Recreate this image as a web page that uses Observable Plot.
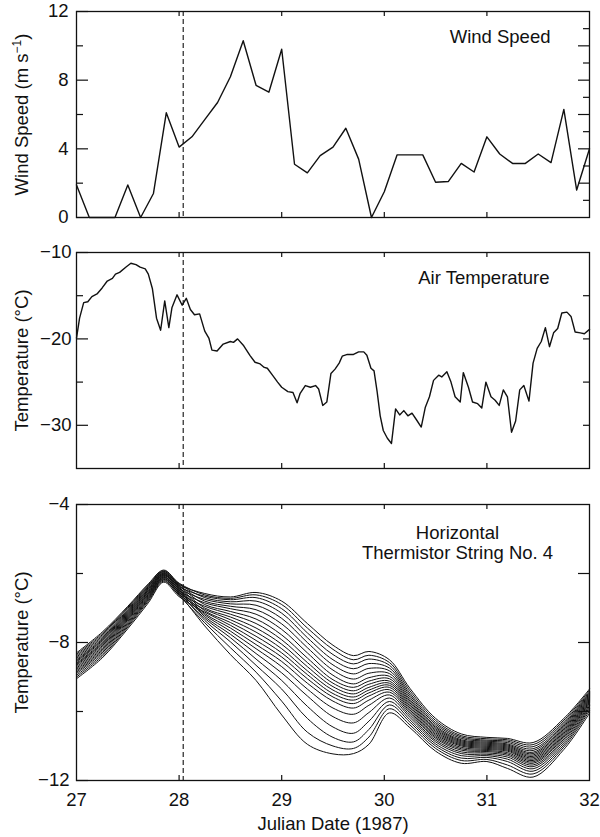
<!DOCTYPE html>
<html><head><meta charset="utf-8">
<script src="https://cdn.jsdelivr.net/npm/d3@7"></script>
<script src="https://cdn.jsdelivr.net/npm/@observablehq/plot@0.6"></script>
<style>
body{margin:0;background:#fff}
#chart svg{display:block}
</style></head><body><div id="chart"></div>
<script>
// ---------------- DATA ----------------
const eventDay = 28.04; // dashed vertical marker

const dayTicks = [27, 28, 29, 30, 31, 32];

// Panel 1: wind speed (m s-1), 3-hourly
const windDays = [27.0, 27.125, 27.25, 27.375, 27.5, 27.625, 27.75, 27.875, 28.0, 28.125, 28.25, 28.375, 28.5, 28.625, 28.75, 28.875, 29.0, 29.125, 29.25, 29.375, 29.5, 29.625, 29.75, 29.875, 30.0, 30.125, 30.25, 30.375, 30.5, 30.625, 30.75, 30.875, 31.0, 31.125, 31.25, 31.375, 31.5, 31.625, 31.75, 31.875, 32.0];
const windSpeed = [1.9, 0, 0, 0, 1.9, 0, 1.4, 6.1, 4.1, 4.7, 5.7, 6.7, 8.2, 10.3, 7.7, 7.3, 9.8, 3.1, 2.6, 3.6, 4.1, 5.2, 3.4, 0, 1.5, 3.65, 3.65, 3.65, 2.05, 2.1, 3.15, 2.65, 4.7, 3.7, 3.15, 3.15, 3.7, 3.2, 6.3, 1.6, 4.0];
const windLabels = [0, 4, 8, 12];
const windMinor = [2, 6, 10];
const windRightMajor = [2, 4, 6, 8, 10];
const windRightMinor = [1, 3, 5, 7, 9, 11];

// Panel 2: air temperature (°C)
const airDays = [27.0, 27.03, 27.07, 27.11, 27.15, 27.2, 27.25, 27.3, 27.35, 27.38, 27.42, 27.48, 27.53, 27.58, 27.62, 27.67, 27.70, 27.74, 27.78, 27.82, 27.86, 27.9, 27.93, 27.98, 28.03, 28.07, 28.11, 28.15, 28.2, 28.25, 28.29, 28.32, 28.37, 28.43, 28.5, 28.53, 28.57, 28.63, 28.69, 28.74, 28.79, 28.83, 28.86, 28.91, 28.96, 29.0, 29.06, 29.11, 29.15, 29.18, 29.23, 29.28, 29.33, 29.36, 29.40, 29.44, 29.48, 29.52, 29.56, 29.59, 29.64, 29.70, 29.75, 29.80, 29.83, 29.87, 29.90, 29.93, 29.96, 29.99, 30.03, 30.07, 30.11, 30.15, 30.19, 30.23, 30.27, 30.31, 30.36, 30.40, 30.44, 30.48, 30.53, 30.56, 30.61, 30.65, 30.69, 30.74, 30.77, 30.82, 30.86, 30.91, 30.95, 30.99, 31.04, 31.08, 31.12, 31.16, 31.20, 31.24, 31.28, 31.32, 31.36, 31.41, 31.45, 31.49, 31.53, 31.57, 31.61, 31.65, 31.69, 31.73, 31.78, 31.82, 31.86, 31.91, 31.95, 32.0];
const airTemp = [-19.9, -17.6, -15.8, -15.7, -15.1, -14.8, -14.1, -13.3, -13.0, -12.5, -12.3, -11.7, -11.25, -11.4, -11.7, -11.9, -12.5, -14.2, -17.6, -19.0, -15.6, -18.7, -16.4, -14.9, -16.1, -15.3, -16.6, -17.2, -17.1, -19.1, -19.9, -21.3, -21.4, -20.6, -20.3, -20.4, -20.0, -20.8, -21.9, -22.7, -22.9, -23.3, -23.4, -24.2, -25.0, -25.6, -26.1, -26.2, -27.4, -26.3, -25.4, -25.6, -25.4, -25.8, -27.7, -27.3, -24.0, -23.5, -22.8, -22.0, -21.8, -21.8, -21.5, -21.5, -21.9, -23.4, -23.7, -26.1, -28.9, -30.6, -31.5, -32.1, -28.1, -28.8, -28.3, -28.9, -28.6, -29.3, -30.2, -27.9, -26.7, -24.8, -24.2, -24.4, -23.8, -25.0, -26.7, -27.3, -23.9, -25.6, -27.3, -27.5, -28.0, -25.0, -26.7, -27.1, -27.7, -25.9, -26.7, -30.8, -29.5, -25.9, -25.4, -27.2, -22.8, -21.1, -20.3, -18.7, -20.9, -19.3, -18.8, -17.0, -16.9, -17.4, -19.2, -19.3, -19.4, -18.9];
const airLabels = [-30, -20, -10];
const airMinor = [-25, -15];
const airRight = [-30, -25, -20, -15];

// Panel 3: horizontal thermistor string No. 4 — one row per time, one column per thermistor
const thermTimes = [27.0, 27.25, 27.5, 27.7, 27.85, 28.0, 28.25, 28.5, 28.75, 29.0, 29.25, 29.5, 29.7, 29.85, 30.05, 30.25, 30.5, 30.75, 31.0, 31.2, 31.45, 31.75, 32.0];
const thermValues = [
  [-8.38,-8.30,-8.50,-8.34,-8.60,-8.42,-8.70,-8.46,-8.82,-8.53,-8.95,-8.56,-9.05,-8.63,-8.74,-8.66,-8.86,-8.78,-9.00,-8.90],
  [-7.78,-7.70,-7.90,-7.74,-8.00,-7.82,-8.10,-7.86,-8.22,-7.93,-8.35,-7.96,-8.45,-8.03,-8.14,-8.06,-8.26,-8.18,-8.40,-8.30],
  [-7.01,-6.95,-7.11,-6.98,-7.20,-7.05,-7.29,-7.08,-7.39,-7.14,-7.51,-7.17,-7.60,-7.23,-7.32,-7.26,-7.43,-7.35,-7.55,-7.47],
  [-6.36,-6.30,-6.44,-6.33,-6.51,-6.38,-6.59,-6.41,-6.67,-6.46,-6.76,-6.49,-6.85,-6.54,-6.61,-6.56,-6.70,-6.64,-6.80,-6.73],
  [-5.94,-5.90,-5.99,-5.92,-6.03,-5.95,-6.08,-5.97,-6.13,-6.00,-6.19,-6.02,-6.25,-6.05,-6.10,-6.06,-6.15,-6.11,-6.22,-6.17],
  [-6.32,-6.28,-6.38,-6.30,-6.44,-6.34,-6.50,-6.36,-6.56,-6.40,-6.62,-6.42,-6.67,-6.46,-6.52,-6.48,-6.58,-6.54,-6.64,-6.60],
  [-6.58,-6.62,-6.66,-6.70,-6.75,-6.80,-6.85,-6.90,-6.95,-7.00,-7.04,-7.08,-7.12,-7.16,-7.20,-7.25,-7.30,-7.36,-7.43,-7.52],
  [-6.68,-6.72,-6.76,-6.82,-6.88,-6.95,-7.02,-7.10,-7.18,-7.26,-7.34,-7.42,-7.50,-7.58,-7.67,-7.76,-7.86,-7.98,-8.15,-8.35],
  [-6.55,-6.62,-6.70,-6.80,-6.92,-7.05,-7.18,-7.32,-7.45,-7.58,-7.70,-7.82,-7.94,-8.06,-8.18,-8.32,-8.48,-8.66,-8.86,-9.10],
  [-6.80,-6.90,-7.02,-7.15,-7.30,-7.46,-7.62,-7.78,-7.92,-8.05,-8.18,-8.30,-8.42,-8.55,-8.70,-8.88,-9.10,-9.35,-9.70,-10.10],
  [-7.45,-7.58,-7.72,-7.86,-8.00,-8.15,-8.30,-8.45,-8.58,-8.70,-8.82,-8.93,-9.05,-9.18,-9.35,-9.55,-9.85,-10.20,-10.60,-10.95],
  [-8.08,-8.20,-8.35,-8.50,-8.65,-8.80,-8.95,-9.08,-9.18,-9.28,-9.38,-9.48,-9.58,-9.70,-9.90,-10.15,-10.45,-10.75,-11.00,-11.23],
  [-8.38,-8.50,-8.62,-8.76,-8.91,-9.06,-9.20,-9.30,-9.40,-9.49,-9.58,-9.67,-9.77,-9.90,-10.08,-10.33,-10.63,-10.88,-11.07,-11.22],
  [-8.26,-8.37,-8.48,-8.61,-8.75,-8.89,-9.02,-9.12,-9.21,-9.30,-9.38,-9.46,-9.55,-9.67,-9.82,-10.03,-10.28,-10.52,-10.74,-10.95],
  [-8.50,-8.58,-8.66,-8.74,-8.82,-8.90,-8.98,-9.05,-9.12,-9.18,-9.24,-9.30,-9.37,-9.44,-9.52,-9.61,-9.71,-9.81,-9.92,-10.04],
  [-9.33,-9.40,-9.47,-9.53,-9.59,-9.65,-9.70,-9.75,-9.80,-9.85,-9.90,-9.95,-10.00,-10.05,-10.11,-10.17,-10.24,-10.31,-10.39,-10.47],
  [-10.20,-10.26,-10.32,-10.37,-10.42,-10.46,-10.50,-10.54,-10.58,-10.62,-10.66,-10.70,-10.74,-10.78,-10.83,-10.88,-10.94,-11.00,-11.07,-11.15],
  [-10.65,-10.70,-10.74,-10.78,-10.82,-10.85,-10.88,-10.91,-10.94,-10.97,-11.00,-11.04,-11.08,-11.12,-11.17,-11.22,-11.28,-11.35,-11.42,-11.50],
  [-10.75,-10.79,-10.83,-10.86,-10.89,-10.92,-10.95,-10.98,-11.01,-11.04,-11.07,-11.10,-11.13,-11.16,-11.20,-11.24,-11.28,-11.33,-11.39,-11.45],
  [-10.78,-10.82,-10.86,-10.90,-10.94,-10.97,-11.00,-11.03,-11.06,-11.09,-11.12,-11.15,-11.19,-11.23,-11.27,-11.32,-11.38,-11.45,-11.55,-11.65],
  [-10.90,-10.96,-11.02,-11.08,-11.13,-11.18,-11.22,-11.26,-11.30,-11.34,-11.38,-11.42,-11.46,-11.50,-11.55,-11.60,-11.66,-11.73,-11.81,-11.90],
  [-10.20,-10.25,-10.30,-10.35,-10.39,-10.43,-10.47,-10.51,-10.55,-10.59,-10.63,-10.67,-10.71,-10.75,-10.80,-10.85,-10.91,-10.97,-11.03,-11.10],
  [-9.35,-9.39,-9.43,-9.46,-9.49,-9.52,-9.55,-9.58,-9.61,-9.64,-9.67,-9.70,-9.73,-9.76,-9.80,-9.84,-9.88,-9.92,-9.98,-10.05]
];
const thermLabels = [-12, -8, -4];
const thermMinor = [-10, -6];
const thermRight = [-10, -8, -6];

// ---------------- LAYOUT ----------------
const FONT = "'Liberation Sans', Arial, Helvetica, sans-serif";
const WIDTH = 600, ML = 76, MR = 11;
const INNER_W = WIDTH - ML - MR;
const FS = 18.5;
const INK = "#111";

function frameMarks(innerH, yMajor, yMinor, rightMajor, rightMinor) {
  return [
    Plot.frame({stroke: INK, strokeWidth: 1.3}),
    Plot.ruleX([eventDay], {stroke: INK, strokeWidth: 1.1, strokeDasharray: "5,3"}),
    Plot.tickY(yMajor, {y: d => d, insetRight: INNER_W - 12, stroke: INK, strokeWidth: 1.2}),
    Plot.tickY(yMinor, {y: d => d, insetRight: INNER_W - 7, stroke: INK, strokeWidth: 1.2}),
    Plot.tickY(rightMajor, {y: d => d, insetLeft: INNER_W - 11, stroke: INK, strokeWidth: 1.2}),
    Plot.tickY(rightMinor, {y: d => d, insetLeft: INNER_W - 6, stroke: INK, strokeWidth: 1.2}),
    Plot.tickX(dayTicks.slice(1, -1), {x: d => d, insetTop: innerH - 5, stroke: INK, strokeWidth: 1.2}),
    Plot.tickX(dayTicks.slice(1, -1), {x: d => d, insetBottom: innerH - 5, stroke: INK, strokeWidth: 1.2})
  ];
}

const baseStyle = {fontFamily: FONT, fontSize: FS + "px", color: INK, background: "#fff"};

// Panel 1
const wind = windDays.map((t, i) => ({t, v: windSpeed[i]}));
const p1H = 240, p1T = 11, p1B = 23;
const plot1 = Plot.plot({
  width: WIDTH, height: p1H, marginLeft: ML, marginRight: MR, marginTop: p1T, marginBottom: p1B,
  style: baseStyle,
  x: {domain: [27, 32], axis: null},
  y: {domain: [0, 12], axis: null},
  marks: [
    ...frameMarks(p1H - p1T - p1B, windLabels, windMinor, windRightMajor, windRightMinor),
    Plot.axisY(windLabels, {anchor: "left", tickSize: 0, tickPadding: 8, label: null, fontSize: FS}),
    Plot.line(wind, {x: "t", y: "v", stroke: INK, strokeWidth: 1.4}),
    Plot.text(["Wind Speed"], {frameAnchor: "top-right", dx: -39, dy: 31, lineAnchor: "bottom", textAnchor: "end", fontSize: FS, fill: INK}),
    Plot.text(["Wind Speed (m s\u22121)"], {frameAnchor: "left", rotate: -90, dx: -54, textAnchor: "middle", lineAnchor: "middle", fontSize: FS, fill: INK})
  ]
});

// Panel 2
const air = airDays.map((t, i) => ({t, v: airTemp[i]}));
const p2H = 240, p2T = 12, p2B = 12;
const plot2 = Plot.plot({
  width: WIDTH, height: p2H, marginLeft: ML, marginRight: MR, marginTop: p2T, marginBottom: p2B,
  style: baseStyle,
  x: {domain: [27, 32], axis: null},
  y: {domain: [-35, -10], axis: null},
  marks: [
    ...frameMarks(p2H - p2T - p2B, airLabels, airMinor, [], airRight),
    Plot.axisY(airLabels, {anchor: "left", tickSize: 0, tickPadding: 5, label: null, fontSize: FS}),
    Plot.line(air, {x: "t", y: "v", stroke: INK, strokeWidth: 1.4}),
    Plot.text(["Air Temperature"], {frameAnchor: "top-right", dx: -40, dy: 31, lineAnchor: "bottom", textAnchor: "end", fontSize: FS, fill: INK}),
    Plot.text(["Temperature (\u00B0C)"], {frameAnchor: "left", rotate: -90, dx: -54, textAnchor: "middle", lineAnchor: "middle", fontSize: FS, fill: INK})
  ]
});

// Panel 3
const therm = [];
thermValues[0].forEach((_, j) => {
  thermTimes.forEach((t, i) => therm.push({t, v: thermValues[i][j], id: j}));
});
const p3H = 357, p3T = 24, p3B = 57;
const plot3 = Plot.plot({
  width: WIDTH, height: p3H, marginLeft: ML, marginRight: MR, marginTop: p3T, marginBottom: p3B,
  style: baseStyle,
  x: {domain: [27, 32], axis: null},
  y: {domain: [-12, -4], axis: null},
  marks: [
    ...frameMarks(p3H - p3T - p3B, thermLabels, thermMinor, thermRight, []),
    Plot.axisY(thermLabels, {anchor: "left", tickSize: 0, tickPadding: 7, label: null, fontSize: FS}),
    Plot.axisX(dayTicks, {anchor: "bottom", tickSize: 0, tickPadding: 12, label: null, fontSize: FS}),
    Plot.line(therm, {x: "t", y: "v", z: "id", curve: "catmull-rom", stroke: INK, strokeWidth: 1}),
    Plot.text(["Horizontal\nThermistor String No. 4"], {frameAnchor: "top", dx: 124.5, dy: 20.5, lineAnchor: "top", textAnchor: "middle", lineHeight: 1.06, fontSize: FS, fill: INK}),
    Plot.text(["Temperature (\u00B0C)"], {frameAnchor: "left", rotate: -90, dx: -54, textAnchor: "middle", lineAnchor: "middle", fontSize: FS, fill: INK}),
    Plot.text(["Julian Date (1987)"], {frameAnchor: "bottom", dy: 44, lineAnchor: "middle", textAnchor: "middle", fontSize: FS, fill: INK})
  ]
});

const chart = document.getElementById("chart");
chart.append(plot1, plot2, plot3);

// superscript for unit label
plot1.querySelectorAll("text").forEach(el => {
  if (el.textContent === "Wind Speed (m s\u22121)") {
    el.textContent = "";
    const NS = "http://www.w3.org/2000/svg";
    const a = document.createElementNS(NS, "tspan"); a.textContent = "Wind Speed (m s";
    const b = document.createElementNS(NS, "tspan"); b.textContent = "\u22121"; b.setAttribute("dy", "-7"); b.setAttribute("font-size", "12");
    const c = document.createElementNS(NS, "tspan"); c.textContent = ")"; c.setAttribute("dy", "7");
    el.append(a, b, c);
  }
});
</script></body></html>
